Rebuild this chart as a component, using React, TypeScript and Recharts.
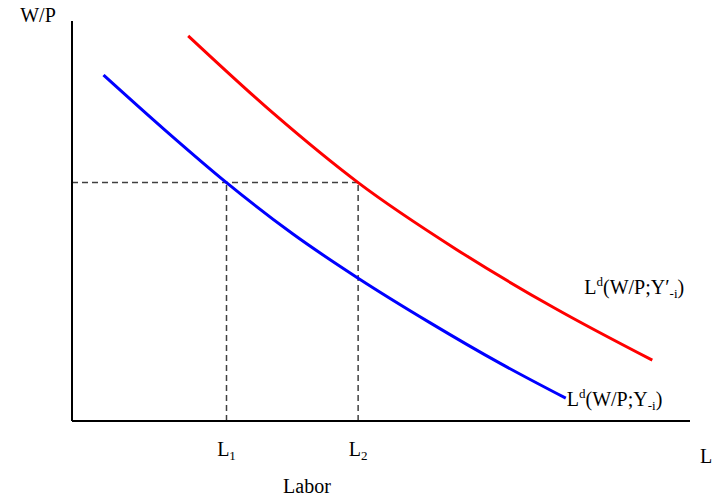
import React from 'react';
import { LineChart, Line, XAxis, YAxis, ReferenceLine, Label } from 'recharts';

const FONT = '"Liberation Serif", "Times New Roman", serif';

// demand curve at Y_-i (blue)
const laborBlue = [0.51, 1.5, 2.5, 3.57, 4.63, 5.79, 6.93, 7.99];
const wageBlue = [8.65, 7.28, 5.96, 4.68, 3.57, 2.46, 1.44, 0.57];
// demand curve at Y'_-i (red)
const laborRed = [1.88, 3.26, 4.63, 6.22, 7.8, 9.39];
const wageRed = [9.63, 7.69, 5.96, 4.29, 2.83, 1.52];

const laborTicks = [2.5, 4.63];
const tickSubs = ['1', '2'];
const realWage = 5.96;

const blueData = laborBlue.map((l, i) => ({ l, w: wageBlue[i] }));
const redData = laborRed.map((l, i) => ({ l, w: wageRed[i] }));

const LaborTick = (props: any) => {
  const { x, y, index } = props;
  return (
    <text x={x} y={y + 27} textAnchor="middle" fontFamily={FONT} fontSize={20} fill="#000">
      L<tspan fontSize={13} dy={4}>{tickSubs[index]}</tspan>
    </text>
  );
};

const endLabel = (last: number, dx: number, dy: number, prime: boolean) => (props: any) => {
  const { x, y, index } = props;
  if (index !== last) return null;
  return (
    <text x={x + dx} y={y + dy} fontFamily={FONT} fontSize={20} fill="#000">
      L<tspan fontSize={13} dy={-8}>d</tspan>
      <tspan dy={8}>{prime ? '(W/P;Y\u2032' : '(W/P;Y'}</tspan>
      <tspan fontSize={13} dy={4}>-i</tspan>
      <tspan dy={-4}>)</tspan>
    </text>
  );
};

export default function App() {
  return (
    <div style={{ position: 'absolute', left: 0, top: 0, background: '#fff' }}>
      <LineChart width={715} height={497} margin={{ top: 21, right: 25, left: 62, bottom: 46 }}>
        <XAxis
          type="number"
          dataKey="l"
          domain={[0, 10]}
          ticks={laborTicks}
          tick={<LaborTick />}
          tickLine={false}
          height={30}
          axisLine={{ stroke: '#000', strokeWidth: 2 }}
          allowDataOverflow
        >
          <Label
            content={({ viewBox }: any) => (
              <text x={viewBox.x + 235} y={viewBox.y + 72} textAnchor="middle" fontFamily={FONT} fontSize={20} fill="#000">
                Labor
              </text>
            )}
          />
          <Label
            content={({ viewBox }: any) => (
              <text x={viewBox.x + viewBox.width + 16} y={viewBox.y + 42} textAnchor="middle" fontFamily={FONT} fontSize={20} fill="#000">
                L
              </text>
            )}
          />
        </XAxis>
        <YAxis
          type="number"
          dataKey="w"
          domain={[0, 10]}
          tick={false}
          tickLine={false}
          width={10}
          axisLine={{ stroke: '#000', strokeWidth: 2 }}
          allowDataOverflow
        >
          <Label
            content={({ viewBox }: any) => (
              <text x={viewBox.x + viewBox.width - 34} y={viewBox.y + 1} textAnchor="middle" fontFamily={FONT} fontSize={20} fill="#000">
                W/P
              </text>
            )}
          />
        </YAxis>
        <ReferenceLine
          segment={[{ x: 0, y: realWage }, { x: laborTicks[1], y: realWage }]}
          stroke="#404040"
          strokeWidth={1.5}
          strokeDasharray="6 4"
        />
        <ReferenceLine
          segment={[{ x: laborTicks[0], y: 0 }, { x: laborTicks[0], y: realWage }]}
          stroke="#404040"
          strokeWidth={1.5}
          strokeDasharray="6 4"
        />
        <ReferenceLine
          segment={[{ x: laborTicks[1], y: 0 }, { x: laborTicks[1], y: realWage }]}
          stroke="#404040"
          strokeWidth={1.5}
          strokeDasharray="6 4"
        />
        <Line
          data={blueData}
          dataKey="w"
          type="monotone"
          stroke="#0000ff"
          strokeWidth={3}
          dot={false}
          isAnimationActive={false}
          label={endLabel(blueData.length - 1, 1, 8, false)}
        />
        <Line
          data={redData}
          dataKey="w"
          type="monotone"
          stroke="#ff0000"
          strokeWidth={3}
          dot={false}
          isAnimationActive={false}
          label={endLabel(redData.length - 1, -68, -66, true)}
        />
      </LineChart>
    </div>
  );
}
